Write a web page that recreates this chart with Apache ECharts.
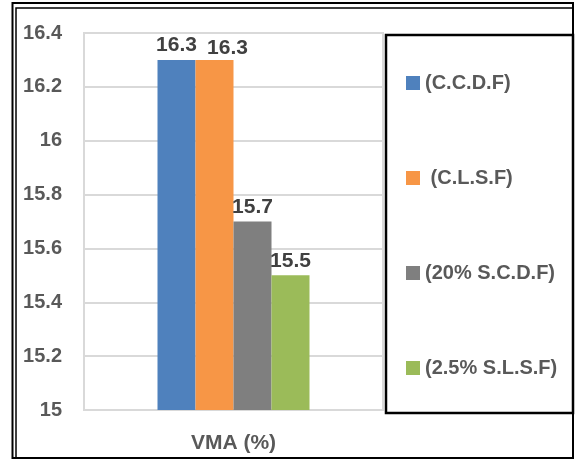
<!DOCTYPE html>
<html>
<head>
<meta charset="utf-8">
<script src="https://cdn.jsdelivr.net/npm/echarts@6/dist/echarts.min.js"></script>
<style>
  html, body { margin: 0; padding: 0; background: #fff; }
  #chart { width: 576px; height: 460px; }
</style>
</head>
<body>
<div id="chart"></div>
<script>
// Categories, series names and values
const categories = ['VMA (%)'];
const seriesNames = ['(C.C.D.F)', ' (C.L.S.F)', '(20% S.C.D.F)', '(2.5% S.L.S.F)'];
const ccdf = [16.3];
const clsf = [16.3];
const scdf20 = [15.7];
const slsf25 = [15.5];
const seriesColors = ['#4F81BD', '#F79646', '#7F7F7F', '#9BBB59'];

const seriesData = [ccdf, clsf, scdf20, slsf25];
// the second label is nudged right so the two equal values don't collide
const labelOffsets = [[0, 0], [13, 3], [0, 0], [0, 0]];
const font = '"Liberation Sans", Arial, sans-serif';

const chart = echarts.init(document.getElementById('chart'));

chart.setOption({
  animation: false,
  backgroundColor: '#ffffff',
  grid: {
    left: 84, right: 193, top: 33, bottom: 50,
    show: true, borderColor: '#d9d9d9', borderWidth: 2
  },
  xAxis: {
    type: 'category',
    data: categories,
    axisLine: { show: false },
    axisTick: { show: false },
    axisLabel: {
      margin: 23,
      color: '#595959', fontFamily: font, fontWeight: 'bold', fontSize: 21
    }
  },
  yAxis: {
    type: 'value',
    min: 15, max: 16.4, interval: 0.2,
    axisLine: { show: false },
    axisTick: { show: false },
    splitLine: { lineStyle: { color: '#d9d9d9', width: 2 } },
    axisLabel: {
      margin: 22,
      color: '#595959', fontFamily: font, fontWeight: 'bold', fontSize: 20
    }
  },
  legend: {
    orient: 'vertical',
    left: 406, top: 73, padding: 0,
    itemWidth: 14, itemHeight: 14, itemGap: 75,
    icon: 'rect',
    textStyle: { color: '#595959', fontFamily: font, fontWeight: 'bold', fontSize: 20, lineHeight: 20 },
    data: seriesNames
  },
  series: seriesNames.map((name, i) => ({
    name: name,
    type: 'bar',
    data: seriesData[i],
    barWidth: 38,
    barGap: '0%',
    itemStyle: { color: seriesColors[i] },
    label: {
      show: true, position: 'top', distance: 4, offset: labelOffsets[i],
      color: '#404040', fontFamily: font, fontWeight: 'bold', fontSize: 21
    }
  })),
  graphic: [
    // double frame around the chart
    { type: 'rect', shape: { x: 12.5, y: 3, width: 560.5, height: 455 },
      style: { fill: 'none', stroke: '#000', lineWidth: 2 }, silent: true },
    { type: 'rect', shape: { x: 16, y: 8, width: 557, height: 450 },
      style: { fill: 'none', stroke: '#000', lineWidth: 1.5 }, silent: true },
    // legend frame
    { type: 'rect', shape: { x: 386, y: 35, width: 187, height: 378 },
      style: { fill: 'none', stroke: '#000', lineWidth: 2.5 }, silent: true }
  ]
});
</script>
</body>
</html>
